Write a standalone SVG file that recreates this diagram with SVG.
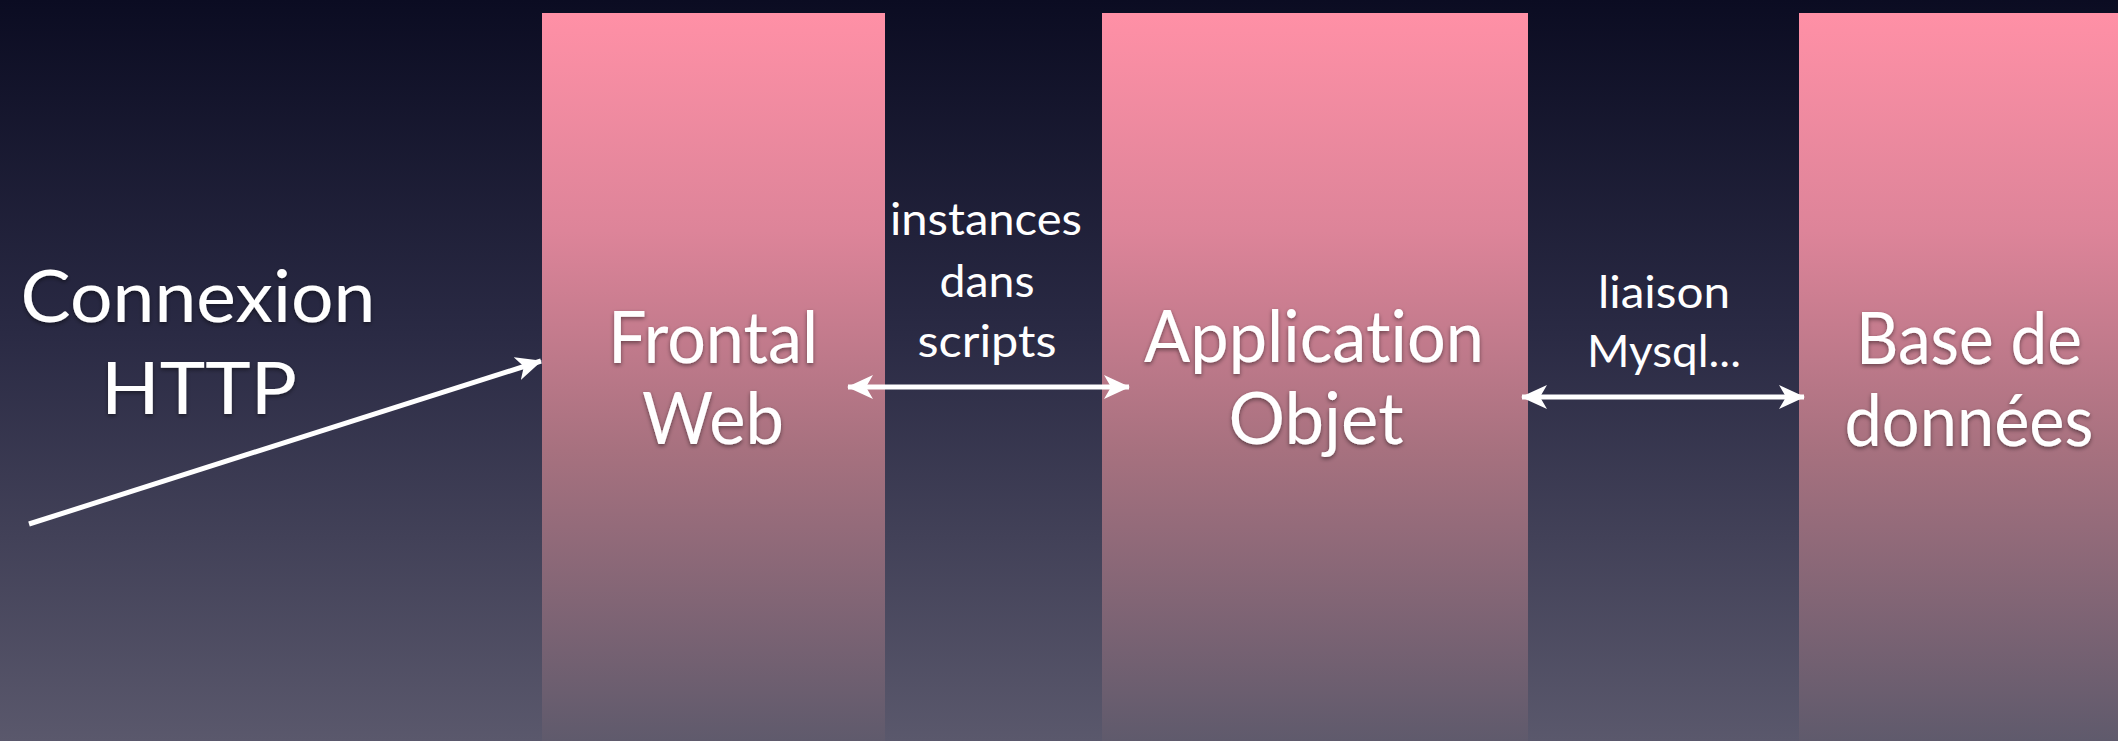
<svg xmlns="http://www.w3.org/2000/svg" width="2118" height="741" viewBox="0 0 2118 741">
  <defs>
    <linearGradient id="bg" x1="0" y1="0" x2="0" y2="1">
      <stop offset="0" stop-color="#0b0c22"/>
      <stop offset="0.45" stop-color="#2a2a44"/>
      <stop offset="1" stop-color="#5a586c"/>
    </linearGradient>
    <linearGradient id="col" x1="0" y1="0" x2="0" y2="1">
      <stop offset="0" stop-color="#ff90a6"/>
      <stop offset="0.3" stop-color="#dd8499"/>
      <stop offset="0.6" stop-color="#a7717f"/>
      <stop offset="1" stop-color="#5f5a6c"/>
    </linearGradient>
    <filter id="sh" x="-10%" y="-10%" width="120%" height="130%">
      <feDropShadow dx="0" dy="2" stdDeviation="2" flood-color="#000" flood-opacity="0.45"/>
    </filter>
    <marker id="ah" markerUnits="userSpaceOnUse" markerWidth="26" markerHeight="24" viewBox="0 0 26 24" refX="25" refY="12" orient="auto-start-reverse">
      <path d="M0,0 L26,12 L0,24 L7,12 z" fill="#ffffff"/>
    </marker>
  </defs>
  <style>
    .col { fill: url(#col); }
    .big { font-family: Lato, "Open Sans", sans-serif; font-size: 72px; fill: #ffffff; text-anchor: middle; filter: url(#sh); font-variant-ligatures: none; font-feature-settings: "liga" 0, "dlig" 0; }
    .small { font-family: Lato, "Open Sans", sans-serif; font-size: 44px; fill: #ffffff; text-anchor: middle; font-variant-ligatures: none; font-feature-settings: "liga" 0; }
    .conn { stroke: #ffffff; stroke-width: 5; fill: none; }
  </style>
  <rect x="0" y="0" width="2118" height="741" fill="url(#bg)"/>

  <g id="connexion-http">
    <text class="big" x="198" y="322" textLength="355" lengthAdjust="spacingAndGlyphs">Connexion</text>
    <text class="big" x="199" y="414" textLength="196" lengthAdjust="spacingAndGlyphs">HTTP</text>
  </g>

  <g id="frontal-web">
    <rect class="col" x="542" y="13" width="343" height="728"/>
    <text class="big" x="713" y="363" textLength="210" lengthAdjust="spacingAndGlyphs">Frontal</text>
    <text class="big" x="713" y="444" textLength="142" lengthAdjust="spacingAndGlyphs">Web</text>
  </g>

  <g id="application-objet">
    <rect class="col" x="1102" y="13" width="426" height="728"/>
    <text class="big" x="1314" y="362" textLength="340" lengthAdjust="spacingAndGlyphs">Application</text>
    <text class="big" x="1316" y="444" textLength="175" lengthAdjust="spacingAndGlyphs">Objet</text>
  </g>

  <g id="base-de-donnees">
    <rect class="col" x="1799" y="13" width="319" height="728"/>
    <text class="big" x="1969" y="364" textLength="226" lengthAdjust="spacingAndGlyphs">Base de</text>
    <text class="big" x="1969" y="446" textLength="249" lengthAdjust="spacingAndGlyphs">données</text>
  </g>

  <g id="connectors">
    <line class="conn" x1="29" y1="524" x2="541" y2="361" marker-end="url(#ah)"/>
    <line class="conn" x1="848" y1="387" x2="1129" y2="387" marker-start="url(#ah)" marker-end="url(#ah)"/>
    <line class="conn" x1="1522" y1="397" x2="1804" y2="397" marker-start="url(#ah)" marker-end="url(#ah)"/>
  </g>

  <g id="labels">
    <text class="small" x="986" y="235" textLength="192" lengthAdjust="spacingAndGlyphs">instances</text>
    <text class="small" x="987" y="297" textLength="95" lengthAdjust="spacingAndGlyphs">dans</text>
    <text class="small" x="987" y="357" textLength="139" lengthAdjust="spacingAndGlyphs">scripts</text>
    <text class="small" x="1664" y="308" textLength="132" lengthAdjust="spacingAndGlyphs">liaison</text>
    <text class="small" x="1664" y="367" textLength="154" lengthAdjust="spacingAndGlyphs">Mysql...</text>
  </g>
</svg>
